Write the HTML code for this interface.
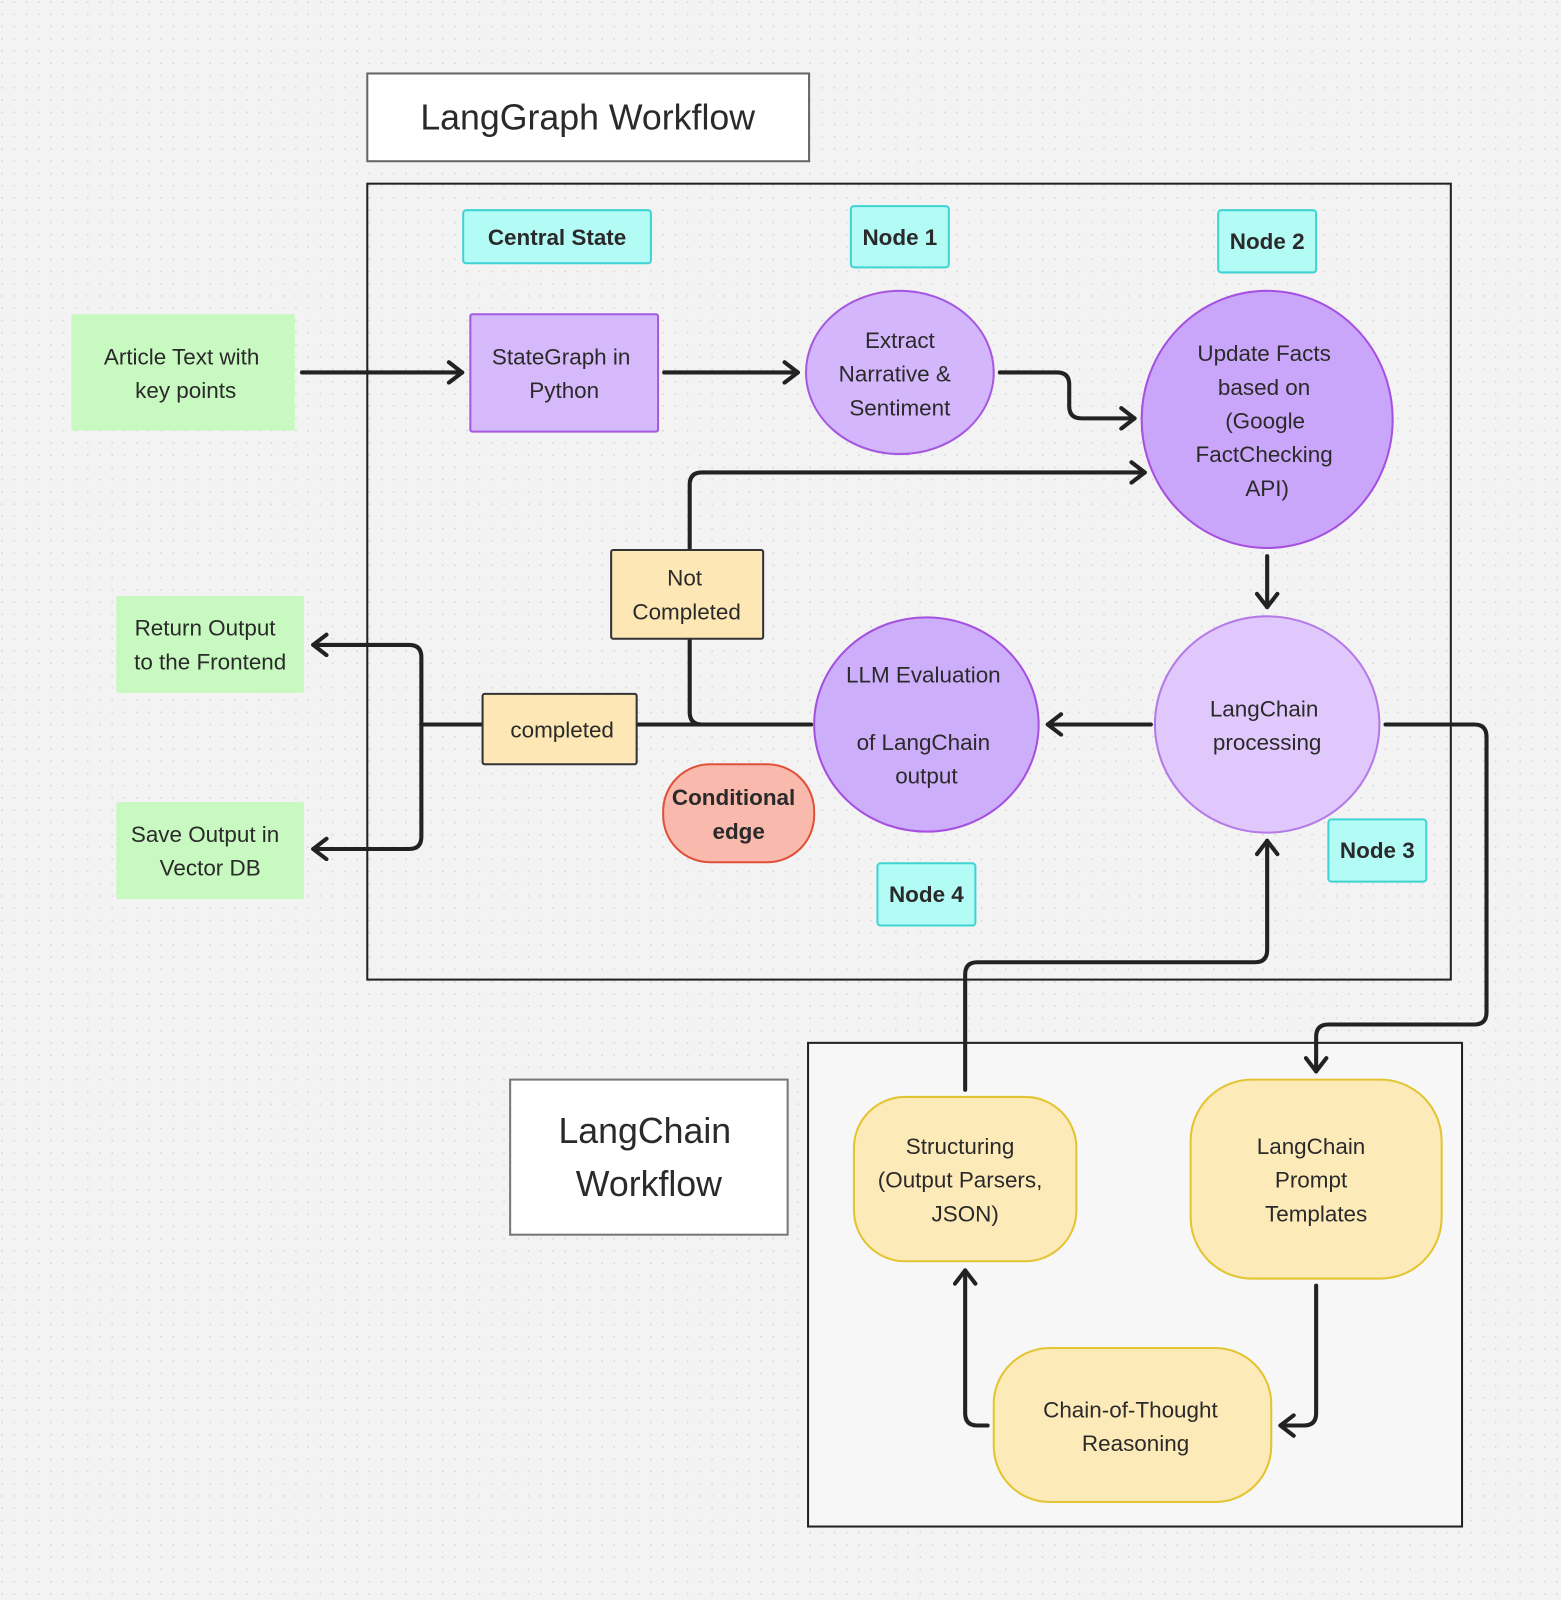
<!DOCTYPE html>
<html><head><meta charset="utf-8"><style>
html,body{margin:0;padding:0;background:#f3f3f3;}
svg{display:block;}
text{font-family:"Liberation Sans",sans-serif;fill:#2a2a2a;}
</style></head><body>
<svg width="1561" height="1600" viewBox="0 0 1530 1568" preserveAspectRatio="none" xmlns="http://www.w3.org/2000/svg">
<defs>
<pattern id="dots" width="12" height="12" patternUnits="userSpaceOnUse"><rect width="12" height="12" fill="#f3f3f3"/><circle cx="2" cy="2" r="0.9" fill="#d8d8d8"/></pattern>
<marker id="ah" viewBox="0 0 24 24" refX="19" refY="12" markerWidth="24" markerHeight="24" markerUnits="userSpaceOnUse" orient="auto"><path d="M6 2 L19 12 L6 22" fill="none" stroke="#222" stroke-width="4" stroke-linecap="round" stroke-linejoin="round"/></marker>
</defs>
<rect width="1530" height="1568" fill="url(#dots)"/>

<rect x="360" y="72" width="433" height="86" fill="#fff" stroke="#666" stroke-width="2"/>
<text x="576" y="127" font-size="35" text-anchor="middle">LangGraph Workflow</text>
<rect x="360" y="180" width="1062" height="780" fill="none" stroke="#222" stroke-width="2"/>
<rect x="792" y="1022" width="641" height="474" fill="#f7f7f7" stroke="#222" stroke-width="2"/>
<rect x="500" y="1058" width="272" height="152" fill="#fff" stroke="#777" stroke-width="2"/>
<text x="632" y="1120" font-size="35" text-anchor="middle">LangChain</text>
<text x="636" y="1172" font-size="35" text-anchor="middle">Workflow</text>

<g font-size="22" font-weight="bold" text-anchor="middle">
<rect x="454" y="206" width="184" height="52" rx="3" fill="#b3fbf5" stroke="#3fd3d3" stroke-width="2"/>
<text x="546" y="240">Central State</text>
<rect x="834" y="202" width="96" height="60" rx="3" fill="#b3fbf5" stroke="#3fd3d3" stroke-width="2"/>
<text x="882" y="240">Node 1</text>
<rect x="1194" y="206" width="96" height="61" rx="3" fill="#b3fbf5" stroke="#3fd3d3" stroke-width="2"/>
<text x="1242" y="244">Node 2</text>
<rect x="1302" y="803" width="96" height="61" rx="3" fill="#b3fbf5" stroke="#3fd3d3" stroke-width="2"/>
<text x="1350" y="841">Node 3</text>
<rect x="860" y="846" width="96" height="61" rx="3" fill="#b3fbf5" stroke="#3fd3d3" stroke-width="2"/>
<text x="908" y="884">Node 4</text>
</g>

<g fill="none" stroke="#222" stroke-width="4" stroke-linecap="round" stroke-linejoin="round">
<path d="M296 365 H453" marker-end="url(#ah)"/>
<path d="M651 365 H782" marker-end="url(#ah)"/>
<path d="M980 365 H1036 Q1048 365 1048 377 V398 Q1048 410 1060 410 H1112" marker-end="url(#ah)"/>
<path d="M676 539 V475 Q676 463 688 463 H1122" marker-end="url(#ah)"/>
<path d="M676 626 V698 Q676 710 688 710"/>
<path d="M795 710 H624"/>
<path d="M473 710 H413"/>
<path d="M413 710 V644 Q413 632 401 632 H307" marker-end="url(#ah)"/>
<path d="M413 710 V820 Q413 832 401 832 H307" marker-end="url(#ah)"/>
<path d="M1242 545 V595" marker-end="url(#ah)"/>
<path d="M1128 710 H1027" marker-end="url(#ah)"/>
<path d="M1358 710 H1445 Q1457 710 1457 722 V992 Q1457 1004 1445 1004 H1302 Q1290 1004 1290 1016 V1050" marker-end="url(#ah)"/>
<path d="M946 1068 V955 Q946 943 958 943 H1230 Q1242 943 1242 931 V824" marker-end="url(#ah)"/>
<path d="M1290 1260 V1385 Q1290 1397 1278 1397 H1255" marker-end="url(#ah)"/>
<path d="M968 1397 H958 Q946 1397 946 1385 V1245" marker-end="url(#ah)"/>
</g>

<g font-size="22" text-anchor="middle">
<rect x="70" y="308" width="219" height="114" rx="2" fill="#c8f9c0"/>
<text x="178" y="357">Article Text with</text><text x="182" y="390">key points</text>
<rect x="461" y="308" width="184" height="115" rx="2" fill="#d5b9fb" stroke="#a559e0" stroke-width="2"/>
<text x="550" y="357">StateGraph in</text><text x="553" y="390">Python</text>
<ellipse cx="882" cy="365" rx="92" ry="80" fill="#d3b6fb" stroke="#a559e0" stroke-width="2"/>
<text x="882" y="341">Extract</text><text x="877" y="374">Narrative &amp;</text><text x="882" y="407">Sentiment</text>
<ellipse cx="1242" cy="411" rx="123" ry="126" fill="#caa6fb" stroke="#a550e0" stroke-width="2"/>
<text x="1239" y="354">Update Facts</text><text x="1239" y="387">based on</text><text x="1240" y="420">(Google</text><text x="1239" y="453">FactChecking</text><text x="1242" y="486">API)</text>
<ellipse cx="1242" cy="710" rx="110" ry="106" fill="#e0c8fc" stroke="#b57ae8" stroke-width="2"/>
<text x="1239" y="702">LangChain</text><text x="1242" y="735">processing</text>
<ellipse cx="908" cy="710" rx="110" ry="105" fill="#cdaefb" stroke="#a550e0" stroke-width="2"/>
<text x="905" y="669">LLM Evaluation</text><text x="905" y="735">of LangChain</text><text x="908" y="768">output</text>
<rect x="599" y="539" width="149" height="87" rx="2" fill="#fde7b4" stroke="#333" stroke-width="2"/>
<text x="671" y="574">Not</text><text x="673" y="607">Completed</text>
<rect x="473" y="680" width="151" height="69" rx="2" fill="#fde7b4" stroke="#333" stroke-width="2"/>
<text x="551" y="723">completed</text>
<rect x="650" y="749" width="148" height="96" rx="46" fill="#f9b9ac" stroke="#e0513a" stroke-width="2"/>
<text x="719" y="789" font-weight="bold">Conditional</text><text x="724" y="822" font-weight="bold">edge</text>
<rect x="114" y="584" width="184" height="95" rx="2" fill="#c8f9c0"/>
<text x="201" y="623">Return Output</text><text x="206" y="656">to the Frontend</text>
<rect x="114" y="786" width="184" height="95" rx="2" fill="#c8f9c0"/>
<text x="201" y="825">Save Output in</text><text x="206" y="858">Vector DB</text>
<rect x="837" y="1075" width="218" height="161" rx="50" fill="#fdeab9" stroke="#e3c431" stroke-width="2"/>
<text x="941" y="1131">Structuring</text><text x="941" y="1164">(Output Parsers,</text><text x="946" y="1197">JSON)</text>
<rect x="1167" y="1058" width="246" height="195" rx="60" fill="#fdeab9" stroke="#e3c431" stroke-width="2"/>
<text x="1285" y="1131">LangChain</text><text x="1285" y="1164">Prompt</text><text x="1290" y="1197">Templates</text>
<rect x="974" y="1321" width="272" height="151" rx="55" fill="#fdeab9" stroke="#e3c431" stroke-width="2"/>
<text x="1108" y="1389">Chain-of-Thought</text><text x="1113" y="1422">Reasoning</text>
</g>
</svg>
</body></html>
